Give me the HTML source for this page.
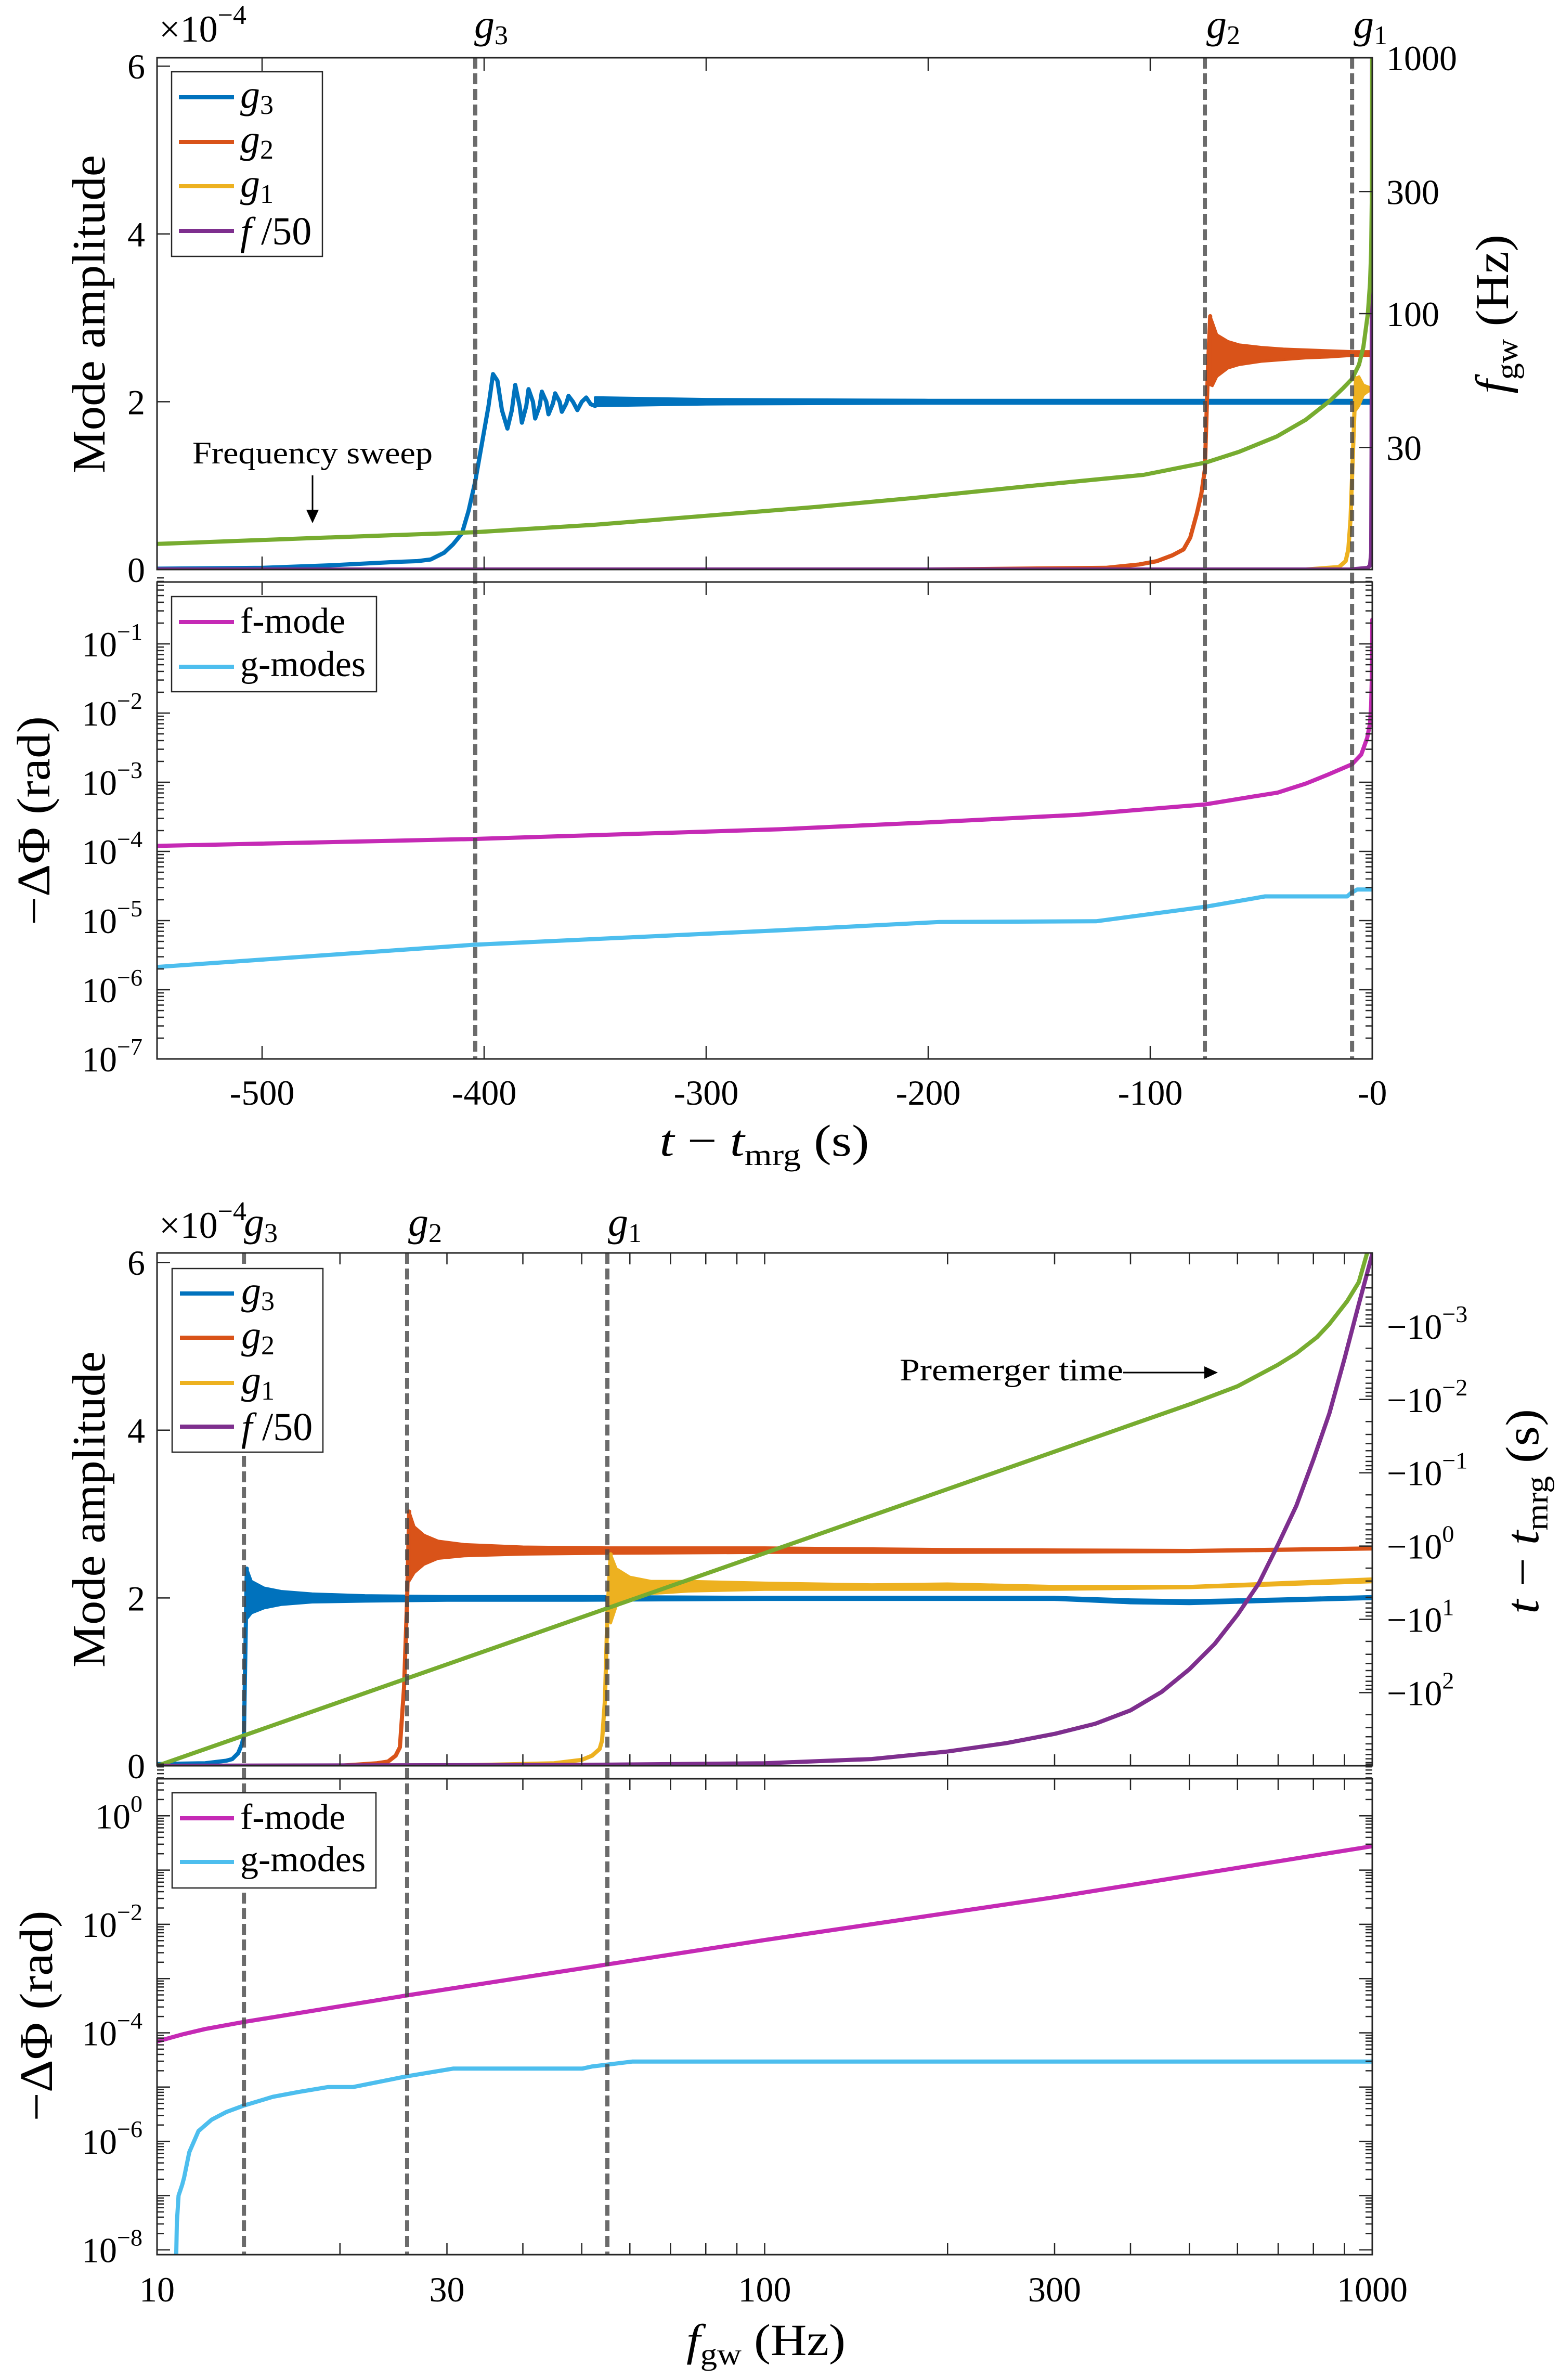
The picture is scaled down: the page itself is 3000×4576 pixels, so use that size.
<!DOCTYPE html>
<html><head><meta charset="utf-8"><style>
html,body{margin:0;padding:0;background:#fff;}
svg{display:block;}
text{font-family:"Liberation Serif","DejaVu Serif",serif;fill:#000;}
</style></head><body>
<svg id="chart" xmlns="http://www.w3.org/2000/svg" width="3000" height="4576" viewBox="0 0 3000 4576">
<rect x="0" y="0" width="3000" height="4576" fill="#fff"/>
<defs>
<clipPath id="c1"><rect x="302" y="111" width="2337" height="984"/></clipPath>
<clipPath id="c2"><rect x="302" y="1119" width="2337" height="917"/></clipPath>
<clipPath id="c3"><rect x="302" y="2409" width="2337" height="986"/></clipPath>
<clipPath id="c4"><rect x="302" y="3420" width="2337" height="915"/></clipPath>
</defs>
<g id="marks1" clip-path="url(#c1)"></g>
<g id="marks2" clip-path="url(#c2)"></g>
<g id="marks3" clip-path="url(#c3)"></g>
<g id="marks4" clip-path="url(#c4)"></g>
<g id="vlines"></g>
<g id="axes"></g>

<text x="306" y="80" font-size="72">×10<tspan font-size="52" dy="-34">−4</tspan></text>
<text x="306" y="2380" font-size="72">×10<tspan font-size="52" dy="-34">−4</tspan></text>

<text x="912" y="73" font-size="78" font-style="italic">g<tspan font-size="52" dy="12" font-style="normal">3</tspan></text>
<text x="2320" y="73" font-size="78" font-style="italic">g<tspan font-size="52" dy="12" font-style="normal">2</tspan></text>
<text x="2603" y="73" font-size="78" font-style="italic">g<tspan font-size="52" dy="12" font-style="normal">1</tspan></text>
<text x="469" y="2376" font-size="78" font-style="italic">g<tspan font-size="52" dy="12" font-style="normal">3</tspan></text>
<text x="785" y="2376" font-size="78" font-style="italic">g<tspan font-size="52" dy="12" font-style="normal">2</tspan></text>
<text x="1169" y="2376" font-size="78" font-style="italic">g<tspan font-size="52" dy="12" font-style="normal">1</tspan></text>

<text transform="translate(201,604) rotate(-90)" text-anchor="middle" font-size="90" textLength="612" lengthAdjust="spacingAndGlyphs">Mode amplitude</text>
<text transform="translate(95,1578) rotate(-90)" text-anchor="middle" font-size="90" textLength="402" lengthAdjust="spacingAndGlyphs">−ΔΦ (rad)</text>
<text transform="translate(2900,604) rotate(-90)" text-anchor="middle" font-size="90" textLength="306" lengthAdjust="spacingAndGlyphs"><tspan font-style="italic">f</tspan><tspan font-size="60" dy="18">gw</tspan><tspan dy="-18"> (Hz)</tspan></text>
<text transform="translate(201,2902) rotate(-90)" text-anchor="middle" font-size="90" textLength="608" lengthAdjust="spacingAndGlyphs">Mode amplitude</text>
<text transform="translate(100,3876) rotate(-90)" text-anchor="middle" font-size="90" textLength="405" lengthAdjust="spacingAndGlyphs">−ΔΦ (rad)</text>
<text transform="translate(2958,2906) rotate(-90)" text-anchor="middle" font-size="90" textLength="394" lengthAdjust="spacingAndGlyphs"><tspan font-style="italic">t</tspan> − <tspan font-style="italic">t</tspan><tspan font-size="60" dy="18">mrg</tspan><tspan dy="-18"> (s)</tspan></text>
<text x="1470" y="2222" text-anchor="middle" font-size="86" textLength="403" lengthAdjust="spacingAndGlyphs"><tspan font-style="italic">t</tspan> − <tspan font-style="italic">t</tspan><tspan font-size="58" dy="18">mrg</tspan><tspan dy="-18"> (s)</tspan></text>
<text x="1473" y="4528" text-anchor="middle" font-size="86" textLength="306" lengthAdjust="spacingAndGlyphs"><tspan font-style="italic">f</tspan><tspan font-size="58" dy="18">gw</tspan><tspan dy="-18"> (Hz)</tspan></text>

<text x="370" y="891" font-size="60" textLength="462" lengthAdjust="spacingAndGlyphs">Frequency sweep</text>
<g><line x1="601" y1="914" x2="601" y2="990" stroke="#000" stroke-width="3"/><path d="M589,980 L601,1006 L613,980 Z" fill="#000"/></g>
<text x="1730" y="2654" font-size="60" textLength="430" lengthAdjust="spacingAndGlyphs">Premerger time</text>
<g><line x1="2160" y1="2639" x2="2330" y2="2639" stroke="#000" stroke-width="3"/><path d="M2316,2627 L2342,2639 L2316,2651 Z" fill="#000"/></g>

<g>
<rect x="330" y="138" width="290" height="355" fill="#fff" stroke="#262626" stroke-width="2.5"/>
<g><line x1="344" y1="187" x2="450" y2="187" stroke="#0072BD" stroke-width="8"/><text x="462" y="207" font-size="76" font-style="italic">g<tspan font-size="52" dy="12" font-style="normal">3</tspan></text></g>
<g><line x1="344" y1="273" x2="450" y2="273" stroke="#D95319" stroke-width="8"/><text x="462" y="293" font-size="76" font-style="italic">g<tspan font-size="52" dy="12" font-style="normal">2</tspan></text></g>
<g><line x1="344" y1="358" x2="450" y2="358" stroke="#EDB120" stroke-width="8"/><text x="462" y="378" font-size="76" font-style="italic">g<tspan font-size="52" dy="12" font-style="normal">1</tspan></text></g>
<g><line x1="344" y1="444" x2="450" y2="444" stroke="#7E2F8E" stroke-width="8"/><text x="462" y="470" font-size="76"><tspan font-style="italic">f</tspan> /50</text></g>
</g>
<g>
<rect x="330" y="1147" width="394" height="183" fill="#fff" stroke="#262626" stroke-width="2.5"/>
<g><line x1="344" y1="1196" x2="450" y2="1196" stroke="#C52AB5" stroke-width="8"/><text x="462" y="1217" font-size="70">f-mode</text></g>
<g><line x1="344" y1="1282" x2="450" y2="1282" stroke="#4DBEEE" stroke-width="8"/><text x="462" y="1300" font-size="70">g-modes</text></g>
</g>
<g>
<rect x="331" y="2439" width="290" height="353" fill="#fff" stroke="#262626" stroke-width="2.5"/>
<g><line x1="346" y1="2487" x2="450" y2="2487" stroke="#0072BD" stroke-width="8"/><text x="464" y="2507" font-size="76" font-style="italic">g<tspan font-size="52" dy="12" font-style="normal">3</tspan></text></g>
<g><line x1="346" y1="2572" x2="450" y2="2572" stroke="#D95319" stroke-width="8"/><text x="464" y="2592" font-size="76" font-style="italic">g<tspan font-size="52" dy="12" font-style="normal">2</tspan></text></g>
<g><line x1="346" y1="2659" x2="450" y2="2659" stroke="#EDB120" stroke-width="8"/><text x="464" y="2679" font-size="76" font-style="italic">g<tspan font-size="52" dy="12" font-style="normal">1</tspan></text></g>
<g><line x1="346" y1="2743" x2="450" y2="2743" stroke="#7E2F8E" stroke-width="8"/><text x="464" y="2769" font-size="76"><tspan font-style="italic">f</tspan> /50</text></g>
</g>
<g>
<rect x="331" y="3447" width="392" height="183" fill="#fff" stroke="#262626" stroke-width="2.5"/>
<g><line x1="346" y1="3496" x2="450" y2="3496" stroke="#C52AB5" stroke-width="8"/><text x="462" y="3517" font-size="70">f-mode</text></g>
<g><line x1="346" y1="3580" x2="450" y2="3580" stroke="#4DBEEE" stroke-width="8"/><text x="462" y="3598" font-size="70">g-modes</text></g>
</g>
</svg>
<script>
// ===== data: top figure (x = t - t_mrg, s) =====
const topG3T = [-547,-500,-469,-440,-430,-424,-418,-414,-410,-407,-404,-401,-398,-396,-394,-392,-389.5,-387.5,-386,-384,-383,-381,-380,-378,-377,-375,-374,-372,-371,-369,-368,-366,-365,-363,-362,-360,-358,-356,-354,-352,-350];
const topG3A = [0.01,0.02,0.05,0.09,0.1,0.12,0.2,0.3,0.43,0.7,1.05,1.5,1.95,2.33,2.25,1.9,1.68,1.9,2.2,1.95,1.75,1.95,2.15,2.0,1.8,1.95,2.12,2.0,1.85,1.98,2.1,2.0,1.88,1.98,2.07,2.0,1.9,2.0,2.05,1.97,1.95];
const topG3BandT = [-350,-300,-200,-100,0];
const topG3BandHi = [2.05,2.03,2.02,2.02,2.02];
const topG3BandLo = [1.95,1.97,1.98,1.98,1.98];
const topG2T = [-547,-200,-120,-105,-97,-90,-85,-82,-79,-77,-75.4,-74,-73];
const topG2A = [0,0,0.02,0.06,0.1,0.17,0.24,0.38,0.67,0.9,1.19,2.4,3.02];
const topG2BandT = [-73,-72,-70,-65,-60,-50,-40,-30,-20,-9,-5,0];
const topG2BandHi = [3.02,2.95,2.8,2.72,2.68,2.65,2.63,2.62,2.61,2.6,2.6,2.6];
const topG2BandLo = [2.2,2.19,2.3,2.4,2.44,2.48,2.5,2.52,2.53,2.55,2.55,2.55];
const topG1T = [-547,-30,-15,-12,-10.8,-9.8,-9.1,-8,-7.3];
const topG1A = [0,0,0.03,0.1,0.24,0.6,1.1,1.9,2.28];
const topG1BandT = [-7.3,-6,-4,-2,-1];
const topG1BandHi = [2.28,2.3,2.2,2.18,2.17];
const topG1BandLo = [1.9,1.95,2.08,2.12,2.13];
const topF50T = [-547,-10,-2,-1,-0.5,-0.3,-0.1];
const topF50A = [0,0,0.02,0.05,0.2,1.5,6.2];
const topFgwT = [-547,-480,-404,-350,-300,-250,-206,-150,-103,-75,-60,-43,-30,-19,-13,-9.1,-6,-4,-2,-1,-0.5,-0.2,-0.05,0];
const topFgwLog = [1.10,1.122,1.146,1.175,1.21,1.245,1.28,1.33,1.37,1.418,1.46,1.52,1.585,1.66,1.71,1.745,1.80,1.87,2.0,2.12,2.25,2.45,2.75,3.0];
const topFmodeT = [-547,-404.7,-266.7,-199.5,-132,-75.2,-60,-42.6,-30,-20,-9.1,-5,-2.3,-1,-0.5,-0.2,-0.05,0];
const topFmodeLog = [-3.92,-3.82,-3.68,-3.58,-3.47,-3.32,-3.24,-3.15,-3.02,-2.89,-2.74,-2.6,-2.36,-2.15,-1.88,-1.5,-1.0,-0.65];
const topGmodesT = [-547,-404.7,-266.7,-195,-124.4,-75.2,-48.3,-11.3,-9.5,-6.8,0];
const topGmodesLog = [-5.67,-5.35,-5.14,-5.02,-5.01,-4.80,-4.65,-4.65,-4.6,-4.55,-4.55];
const topModeT = [-404,-75.4,-9.1];
const topXTicks = [-500,-400,-300,-200,-100,0];
const topXTickLabels = ['-500','-400','-300','-200','-100','-0'];
const ampTicks = [0,2,4,6];
const fgwTicks = [30,100,300,1000];
const fgwTickLabels = ['30','100','300','1000'];
const phaseTopDecades = [-7,-6,-5,-4,-3,-2,-1];

// ===== data: bottom figure (x = f_gw, Hz) =====
const botG3F = [10,12,13.0,13.3,13.6,13.8,13.9,14.05];
const botG3A = [0.02,0.03,0.06,0.08,0.15,0.26,0.37,2.35];
const botG3BandF = [14.05,14.3,15,16,18,22,30,50,100,200,300,400,500,700,1000];
const botG3BandHi = [2.35,2.2,2.12,2.08,2.05,2.03,2.02,2.02,2.01,2.01,2.01,1.98,1.97,1.99,2.02];
const botG3BandLo = [1.75,1.82,1.88,1.92,1.95,1.96,1.97,1.97,1.98,1.98,1.98,1.94,1.93,1.96,1.99];
const botG2F = [10,20,23,24,24.7,25.1,25.5,25.8,26.0];
const botG2A = [0,0,0.03,0.05,0.12,0.22,0.93,2.0,3.03];
const botG2BandF = [26,26.5,27.5,29,32,40,55,100,200,500,1000];
const botG2BandHi = [3.03,2.85,2.75,2.68,2.64,2.61,2.6,2.6,2.58,2.57,2.6];
const botG2BandLo = [2.2,2.3,2.4,2.47,2.5,2.52,2.53,2.54,2.54,2.55,2.58];
const botG1F = [10,30,45,50,52,53.5,54,54.6,55.1,55.8];
const botG1A = [0,0,0.03,0.07,0.12,0.2,0.3,0.79,1.8,2.52];
const botG1BandF = [55.8,57,60,65,75,100,150,200,300,500,1000];
const botG1BandHi = [2.52,2.35,2.25,2.2,2.2,2.18,2.16,2.17,2.14,2.14,2.23];
const botG1BandLo = [1.7,1.9,2.0,2.05,2.08,2.1,2.1,2.1,2.1,2.12,2.19];
const botF50F = [10,50,100,150,200,250,300,350,400,450,500,550,600,650,700,750,800,850,900,950,1000];
const botF50A = [0,0.01,0.03,0.08,0.17,0.27,0.38,0.5,0.66,0.88,1.15,1.45,1.8,2.17,2.64,3.1,3.65,4.2,4.85,5.5,6.1];
const botTimeF = [10,507,600,698,750,811,850,909,950,980,1000];
const botTimeLog = [3.0,-1.95,-2.18,-2.47,-2.63,-2.85,-3.03,-3.34,-3.6,-3.99,-4.3];
const botFmodeF = [10,11,12,13.9,25.8,55,100,300,1000];
const botFmodeLog = [-4.16,-4.03,-3.93,-3.80,-3.31,-2.74,-2.29,-1.50,-0.56];
const botGmodesF = [10.75,10.78,10.85,11.0,11.08,11.3,11.7,12.3,13.0,13.9,15.5,17.1,19.1,21.0,25.8,30.7,50.1,52,60.5,1000];
const botGmodesLog = [-8.2,-7.5,-7.0,-6.8,-6.67,-6.2,-5.81,-5.6,-5.46,-5.34,-5.18,-5.09,-5.00,-5.00,-4.80,-4.66,-4.66,-4.62,-4.53,-4.53];
const botModeF = [13.9,25.8,55.1];
const botXTicks = [10,30,100,300,1000];
const botXTickLabels = ['10','30','100','300','1000'];
const timeTickDecades = [-3,-2,-1,0,1,2];
const phaseBotDecades = [0,-2,-4,-6,-8];

// ===== axis functions =====
const X0 = 302, X1 = 2639;
const xT = t => X1 + t * 4.27;
const xF = f => X0 + Math.log10(f / 10) * 1168.5;
const yA1 = a => 1095 - a * 161.3;
const yLf1 = lf => 1095 - (lf - 1) * 492;
const yP2 = ly => 2036 - (ly + 7) * 133;
const yA3 = a => 3395 - a * 161.3;
const yT3 = lt => 2409 + (lt + 4) * 140.9;
const yP4 = ly => 4325.7 - (ly + 8) * 104.3;

const NS = 'http://www.w3.org/2000/svg';
function mk(tag, parent) { const e = document.createElementNS(NS, tag); parent.appendChild(e); return e; }
function pathD(xs, ys, fx, fy) { return xs.map((v, i) => (i ? 'L' : 'M') + fx(v).toFixed(1) + ',' + fy(ys[i]).toFixed(1)).join(''); }

function line(parent, xs, ys, fx, fy, color, name) {
  const p = mk('path', parent);
  p.setAttribute('d', pathD(xs, ys, fx, fy));
  p.setAttribute('fill', 'none');
  p.setAttribute('stroke', color);
  p.setAttribute('stroke-width', '8');
  p.setAttribute('stroke-linejoin', 'round');
  p.setAttribute('stroke-linecap', 'round');
  
  
  return p;
}
function band(parent, xs, hi, lo, fx, fy, color, name) {
  let d = xs.map((v, i) => (i ? 'L' : 'M') + fx(v).toFixed(1) + ',' + fy(hi[i]).toFixed(1)).join('');
  for (let i = xs.length - 1; i >= 0; i--) d += 'L' + fx(xs[i]).toFixed(1) + ',' + fy(lo[i]).toFixed(1);
  const p = mk('path', parent);
  p.setAttribute('d', d + 'Z');
  p.setAttribute('fill', color);
  p.setAttribute('stroke', color);
  p.setAttribute('stroke-width', '5');
  p.setAttribute('stroke-linejoin', 'round');
  
  
}

const C3 = '#0072BD', C2 = '#D95319', C1 = '#EDB120', CF = '#7E2F8E', CG = '#77AC30', CM = '#C52AB5', CC = '#4DBEEE';
const m1 = document.getElementById('marks1'), m2 = document.getElementById('marks2');
const m3 = document.getElementById('marks3'), m4 = document.getElementById('marks4');

line(m1, topG3T, topG3A, xT, yA1, C3, 'g3-amplitude-line');
band(m1, topG3BandT, topG3BandHi, topG3BandLo, xT, yA1, C3, 'g3-amplitude-band');
line(m1, topG2T, topG2A, xT, yA1, C2, 'g2-amplitude-line');
band(m1, topG2BandT, topG2BandHi, topG2BandLo, xT, yA1, C2, 'g2-amplitude-band');
line(m1, topG1T, topG1A, xT, yA1, C1, 'g1-amplitude-line');
band(m1, topG1BandT, topG1BandHi, topG1BandLo, xT, yA1, C1, 'g1-amplitude-band');
line(m1, topF50T, topF50A, xT, yA1, CF, 'f50-amplitude-line');
line(m1, topFgwT, topFgwLog, xT, yLf1, CG, 'gw-frequency-line');
line(m2, topFmodeT, topFmodeLog, xT, yP2, CM, 'f-mode-phase-line');
line(m2, topGmodesT, topGmodesLog, xT, yP2, CC, 'g-modes-phase-line');
line(m3, botG3F, botG3A, xF, yA3, C3, 'g3-amplitude-line-bottom');
band(m3, botG3BandF, botG3BandHi, botG3BandLo, xF, yA3, C3, 'g3-amplitude-band-bottom');
line(m3, botG2F, botG2A, xF, yA3, C2, 'g2-amplitude-line-bottom');
band(m3, botG2BandF, botG2BandHi, botG2BandLo, xF, yA3, C2, 'g2-amplitude-band-bottom');
line(m3, botG1F, botG1A, xF, yA3, C1, 'g1-amplitude-line-bottom');
band(m3, botG1BandF, botG1BandHi, botG1BandLo, xF, yA3, C1, 'g1-amplitude-band-bottom');
line(m3, botTimeF, botTimeLog, xF, yT3, CG, 'premerger-time-line');
line(m3, botF50F, botF50A, xF, yA3, CF, 'f50-amplitude-line-bottom');
line(m4, botFmodeF, botFmodeLog, xF, yP4, CM, 'f-mode-phase-line-bottom');
line(m4, botGmodesF, botGmodesLog, xF, yP4, CC, 'g-modes-phase-line-bottom');

const vl = document.getElementById('vlines');
function vline(x, y0, y1, name) {
  const l = mk('line', vl);
  l.setAttribute('x1', x); l.setAttribute('x2', x); l.setAttribute('y1', y0); l.setAttribute('y2', y1);
  l.setAttribute('stroke', 'rgba(70,70,70,0.8)');
  l.setAttribute('stroke-width', '8');
  l.setAttribute('stroke-dasharray', '21 9');
  
  
}
topModeT.forEach(t => vline(xT(t), 111, 2036, 'mode-line-top'));
botModeF.forEach(f => vline(xF(f), 2409, 4335, 'mode-line-bottom'));

const ax = document.getElementById('axes');
function box(x, y, w, h, name) {
  const r = mk('rect', ax);
  r.setAttribute('x', x); r.setAttribute('y', y); r.setAttribute('width', w); r.setAttribute('height', h);
  r.setAttribute('fill', 'none'); r.setAttribute('stroke', '#262626'); r.setAttribute('stroke-width', '3');
  
  
}
function tk(x1, y1, x2, y2) {
  const l = mk('line', ax);
  l.setAttribute('x1', x1); l.setAttribute('y1', y1); l.setAttribute('x2', x2); l.setAttribute('y2', y2);
  l.setAttribute('stroke', '#262626'); l.setAttribute('stroke-width', '2.5');
  
  
}
function label(x, y, base, sup, anchor, name) {
  const t = mk('text', ax);
  t.setAttribute('x', x); t.setAttribute('y', y); t.setAttribute('font-size', '68');
  t.setAttribute('text-anchor', anchor);
  
  
  t.textContent = base;
  if (sup !== null) { const s = mk('tspan', t); s.setAttribute('font-size', '46'); s.setAttribute('dy', '-32'); s.textContent = sup; }
}
box(302, 111, 2337, 984, 'top-amplitude-axes-box');
box(302, 1119, 2337, 917, 'top-phase-axes-box');
box(302, 2409, 2337, 986, 'bottom-amplitude-axes-box');
box(302, 3420, 2337, 915, 'bottom-phase-axes-box');

topXTicks.forEach((t, i) => {
  const x = xT(t);
  if (t < 0) { [[111, 1095], [1119, 2036]].forEach(([a, b]) => { tk(x, a, x, a + 25); tk(x, b, x, b - 25); }); }
  label(x, 2124, topXTickLabels[i], null, 'middle', 'top-x-tick-label');
});
ampTicks.forEach(a => {
  tk(302, yA1(a), 327, yA1(a)); tk(302, yA3(a), 327, yA3(a));
  label(279, yA1(a) + 24, String(a), null, 'end', 'top-y-tick-label');
  label(279, yA3(a) + 24, String(a), null, 'end', 'bottom-y-tick-label');
});
fgwTicks.forEach((f, i) => {
  const y = yLf1(Math.log10(f));
  tk(2639, y, 2614, y);
  label(2666, y + 24, fgwTickLabels[i], null, 'start', 'top-right-tick-label');
});
function logTicks(fy, lo, hi, xl, xr) {
  for (let k = lo; k < hi; k++) {
    for (let m = 1; m <= 9; m++) {
      const y = fy(k + Math.log10(m));
      const len = m === 1 ? 25 : 13;
      if (xl !== null) tk(xl, y, xl + len, y);
      if (xr !== null) tk(xr, y, xr - len, y);
    }
  }
}
logTicks(v => yP2(v), -7, 0, 302, 2639);
phaseTopDecades.forEach(d => label(274, yP2(d) + 24, '10', '−' + (-d), 'end', 'top-phase-tick-label'));
logTicks(v => yP4(v), -8, 1, 302, 2639);
phaseBotDecades.forEach(d => label(274, yP4(d) + 24, '10', d === 0 ? '0' : '−' + (-d), 'end', 'bottom-phase-tick-label'));
for (let k = -4; k < 3; k++) {
  for (let m = 1; m <= 9; m++) {
    const y = yT3(k + Math.log10(m));
    if (y > 2409) tk(2639, y, 2639 - (m === 1 ? 25 : 13), y);
  }
}
timeTickDecades.forEach(d => label(2667, yT3(d) + 24, '−10', d < 0 ? '−' + (-d) : String(d), 'start', 'bottom-right-tick-label'));
for (let k = 1; k < 3; k++) {
  for (let m = 1; m <= 9; m++) {
    const x = xF(m * Math.pow(10, k));
    if (m === 1 && k === 1) continue;
    [[2409, 3395], [3420, 4335]].forEach(([a, b]) => { tk(x, a, x, a + 22); tk(x, b, x, b - 22); });
  }
}
botXTicks.forEach((f, i) => label(xF(f), 4425, botXTickLabels[i], null, 'middle', 'bottom-x-tick-label'));
</script>
</body></html>
